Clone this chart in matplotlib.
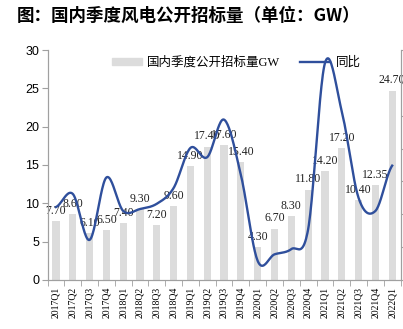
import numpy as np
import matplotlib.pyplot as plt
from matplotlib.patches import Patch
from matplotlib.lines import Line2D

quarters = ["2017Q1", "2017Q2", "2017Q3", "2017Q4",
            "2018Q1", "2018Q2", "2018Q3", "2018Q4",
            "2019Q1", "2019Q2", "2019Q3", "2019Q4",
            "2020Q1", "2020Q2", "2020Q3", "2020Q4",
            "2021Q1", "2021Q2", "2021Q3", "2021Q4",
            "2022Q1"]
tender_gw = [7.7, 8.6, 6.1, 6.5, 7.4, 9.3, 7.2, 9.6, 14.9, 17.4, 17.6, 15.4,
             4.3, 6.7, 8.3, 11.8, 14.2, 17.2, 10.4, 12.35, 24.7]
# year-on-year growth, %
yoy_pct = [11, 31, -39, 56, 5, 8, 16, 40, 101, 87, 144, 60,
           -71, -61, -53, -23, 230, 157, 25, 5, 74]

BAR = "#DCDCDC"
LINE = "#2F4F9C"
SPINE = "#A0A0A0"
SERIF = ["Liberation Serif", "Noto Sans CJK SC"]


def smooth(y, n=24):
    # excel-style smoothed line (catmull-rom through the points)
    y = np.asarray(y, float)
    p = np.r_[y[0], y, y[-1]]
    xs, ys = [], []
    t = np.linspace(0, 1, n, endpoint=False)
    for i in range(len(y) - 1):
        p0, p1 = p[i + 1], p[i + 2]
        m0 = (p[i + 2] - p[i]) / 2
        m1 = (p[i + 3] - p[i + 1]) / 2
        h00 = 2 * t**3 - 3 * t**2 + 1
        h10 = t**3 - 2 * t**2 + t
        h01 = -2 * t**3 + 3 * t**2
        h11 = t**3 - t**2
        xs.append(i + t)
        ys.append(h00 * p0 + h10 * m0 + h01 * p1 + h11 * m1)
    xs.append([len(y) - 1])
    ys.append([y[-1]])
    return np.concatenate(xs), np.concatenate(ys)


fig = plt.figure(figsize=(4.03, 3.29), dpi=100)
ax = fig.add_axes([0.118, 0.149, 0.876, 0.699])
x = np.arange(len(quarters))

ax.bar(x, tender_gw, width=0.43, color=BAR, zorder=1)
for xi, v in zip(x, tender_gw):
    ax.annotate("%.2f" % v, (xi, v), xytext=(0, 3), textcoords="offset points",
                ha="center", va="bottom", fontsize=8.5, family=SERIF,
                color="#222222", zorder=3)

ax.set_xlim(-0.5, len(quarters) - 0.5)
ax.set_ylim(0, 30)
ax.set_yticks(range(0, 31, 5))
ax.tick_params(axis="y", labelsize=9, length=4, color=SPINE, pad=2)
for lab in ax.get_yticklabels():
    lab.set_family("Liberation Sans")
ax.set_xticks(x)
ax.set_xticklabels(quarters, rotation=90, fontsize=7, family=SERIF)
ax.set_xticks(np.arange(-0.5, len(quarters), 1), minor=True)
ax.tick_params(axis="x", which="major", length=0, pad=5)
ax.tick_params(axis="x", which="minor", length=4, color=SPINE)

# right axis labels fall outside the picture in the original
ax2 = ax.twinx()
sx, sy = smooth(yoy_pct)
ax2.plot(sx, sy, color=LINE, lw=1.7, zorder=4)
ax2.set_ylim(-100, 250)
ax2.set_yticks(range(-100, 251, 50))
ax2.tick_params(axis="y", length=4, color=SPINE, labelright=False)

for a in (ax, ax2):
    a.spines["top"].set_visible(False)
    for s in ("left", "right", "bottom"):
        a.spines[s].set_color(SPINE)
        a.spines[s].set_linewidth(0.8)

handles = [Patch(color=BAR), Line2D([], [], color=LINE, lw=1.7)]
ax.legend(handles, ["国内季度公开招标量GW", "同比"], loc="upper center",
          bbox_to_anchor=(0.535, 1.02), ncol=2, frameon=False,
          prop={"family": SERIF, "size": 9}, handlelength=2.4,
          handleheight=0.5, columnspacing=1.6, handletextpad=0.4)

fig.text(0.042, 0.953, "图：国内季度风电公开招标量（单位：GW）",
         family=["Noto Sans CJK SC", "DejaVu Sans"], fontweight="bold",
         fontsize=12.6, va="center", ha="left")

fig.savefig("out.png", dpi=100)
